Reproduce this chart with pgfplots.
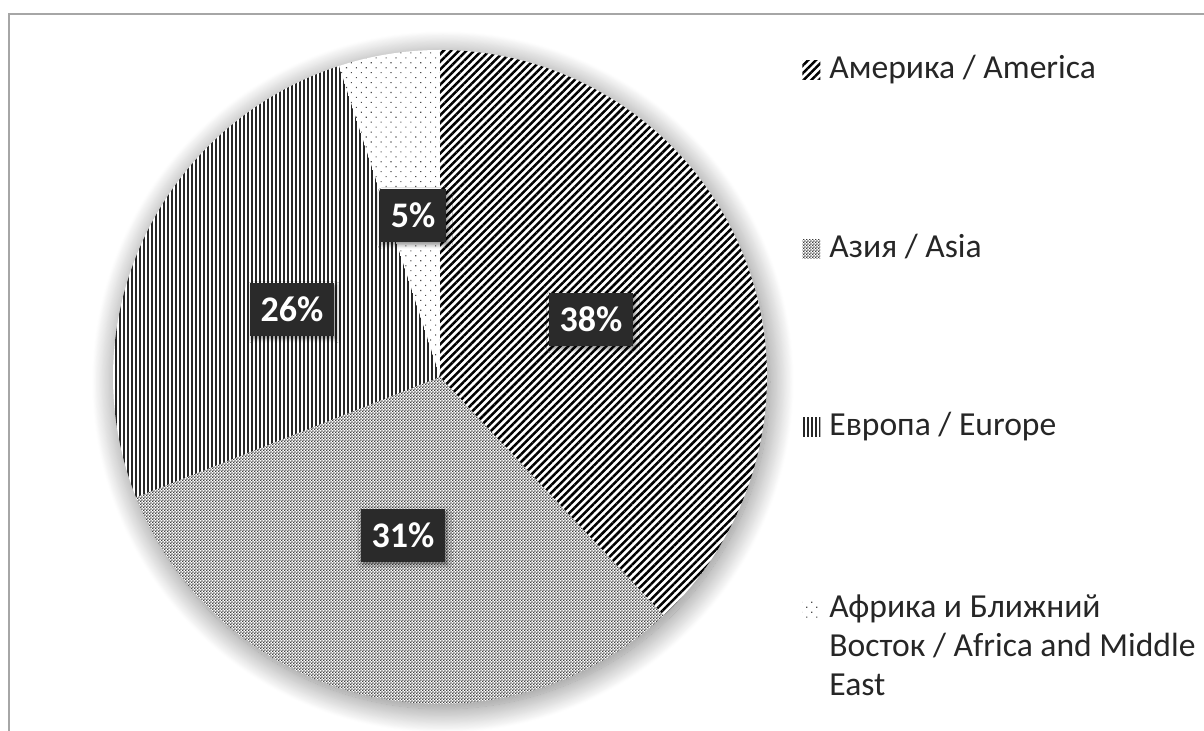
\documentclass[border=0pt]{standalone}
\usepackage{fontspec}
\setmainfont{Carlito}
\usepackage{pgfplots}
\pgfplotsset{compat=1.18}
\usetikzlibrary{patterns,patterns.meta,shadows.blur}

\pgfdeclarepatternformonly{checker}{\pgfpointorigin}{\pgfpoint{1.6pt}{1.6pt}}{\pgfpoint{1.6pt}{1.6pt}}{%
  \pgfpathrectangle{\pgfpointorigin}{\pgfpoint{0.8pt}{0.8pt}}%
  \pgfpathrectangle{\pgfpoint{0.8pt}{0.8pt}}{\pgfpoint{0.8pt}{0.8pt}}%
  \pgfusepath{fill}}

\definecolor{lblfill}{HTML}{2A2A2A}
\definecolor{framegray}{HTML}{A6A6A6}
\definecolor{legtext}{HTML}{262626}

\tikzset{
  lbl/.style={fill=lblfill, text=white, font=\fontsize{18}{21}\selectfont\bfseries,
    inner xsep=5.5pt, minimum height=26.5pt, text height=11.4pt, text depth=0pt,
    blur shadow={shadow xshift=1pt, shadow yshift=-1.2pt, shadow blur radius=2pt, shadow opacity=45}},
  pAmerica/.style={pattern={Lines[angle=45,distance=2.7pt,line width=1.25pt]}, pattern color=black},
  pAsia/.style={pattern=checker, pattern color=black!75},
  pEurope/.style={pattern={Lines[angle=90,distance=2pt,line width=0.75pt]}, pattern color=black!85},
  pAfrica/.style={pattern={Dots[angle=45,distance=3.5pt,radius=0.4pt]}, pattern color=black!70},
}

\begin{document}
\begin{tikzpicture}
\path[use as bounding box] (0,0) rectangle (602pt,365.5pt);
\begin{axis}[
  at={(0,0)}, anchor=south west, scale only axis,
  width=602pt, height=365.5pt,
  xmin=0, xmax=1204, ymin=0, ymax=731,
  hide axis, clip=false,
  legend style={at={(axis cs:802,676)}, anchor=north west, draw=none, fill=none,
    font=\fontsize{16.8}{19.5}\selectfont, text=legtext, row sep=76pt, inner sep=0pt,
    nodes={inner sep=0pt}, cells={anchor=base west}},
  legend image code/.code={\fill[#1] (0pt,-0.5pt) rectangle (9pt,9pt); \path (13.5pt,0pt);},
]
% pie shadow (white disc underneath the slices)
\addplot[forget plot, fill=white, draw=none, domain=0:360, samples=181, variable=\t,
  blur shadow={shadow xshift=1.5pt, shadow yshift=-2.5pt, shadow blur radius=12pt, shadow opacity=50, shadow blur steps=30}]
  ({440+327*cos(\t)},{354+327*sin(\t)}) -- cycle;
% slices: cumulative percentages 0-38-69-95-100 (America 38, Asia 31, Europe 26, Africa 5)
\addplot[pAmerica, draw=none, domain=0:38, samples=90, variable=\p]
  ({440+327*cos(90-3.6*\p)},{354+327*sin(90-3.6*\p)}) -- (440,354) -- cycle;
\addplot[pAsia, draw=none, domain=38:69, samples=80, variable=\p]
  ({440+327*cos(90-3.6*\p)},{354+327*sin(90-3.6*\p)}) -- (440,354) -- cycle;
\addplot[pEurope, draw=none, domain=69:95, samples=70, variable=\p]
  ({440+327*cos(90-3.6*\p)},{354+327*sin(90-3.6*\p)}) -- (440,354) -- cycle;
\addplot[pAfrica, draw=none, domain=95:100, samples=20, variable=\p]
  ({440+327*cos(90-3.6*\p)},{354+327*sin(90-3.6*\p)}) -- (440,354) -- cycle;
\legend{Америка / America, Азия / Asia, Европа / Europe,
  {\begin{tabular}[t]{@{}l@{}}Африка и Ближний\\Восток / Africa and Middle\\East\end{tabular}}}
% frame
\draw[framegray, line width=1pt] (9,0) -- (9,717) -- (1204,717);
% data labels
\node[lbl] at (591,411) {38\%};
\node[lbl] at (403,195) {31\%};
\node[lbl] at (292,421) {26\%};
\node[lbl] at (413,515) {5\%};
\end{axis}
\end{tikzpicture}
\end{document}
